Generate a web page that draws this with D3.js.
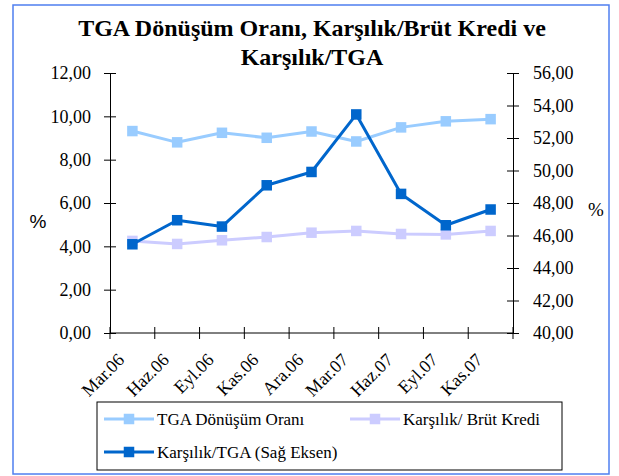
<!DOCTYPE html>
<html>
<head>
<meta charset="utf-8">
<script src="https://cdn.jsdelivr.net/npm/d3@7"></script>
<style>
  html, body { margin: 0; padding: 0; background: #fff; }
  svg { display: block; }
</style>
</head>
<body>
<svg id="chart" width="619" height="476"></svg>
<script>
// Quarterly periods
const periods = ["Mar.06", "Haz.06", "Eyl.06", "Kas.06", "Ara.06", "Mar.07", "Haz.07", "Eyl.07", "Kas.07"];

// Left-axis series (%)
const tgaDonusum = [9.32, 8.80, 9.24, 9.01, 9.30, 8.84, 9.49, 9.77, 9.87];
const karsilikBrut = [4.25, 4.11, 4.28, 4.43, 4.63, 4.71, 4.57, 4.55, 4.71];

// Right-axis series (%)
const karsilikTga = [45.46, 46.94, 46.55, 49.09, 49.91, 53.45, 48.56, 46.63, 47.60];

const leftTicks = [0, 2, 4, 6, 8, 10, 12];
const rightTicks = [40, 42, 44, 46, 48, 50, 52, 54, 56];

const seriesNames = ["TGA Dönüşüm Oranı", "Karşılık/ Brüt Kredi", "Karşılık/TGA (Sağ Eksen)"];
const colors = ["#99ccff", "#ccccff", "#0066cc"];

const svg = d3.select("#chart");
const serif = "Liberation Serif, Times New Roman, serif";
const fmt = v => d3.format(".2f")(v).replace(".", ",");

const plot = { left: 110, right: 513, top: 73, bottom: 333 };

// Outer chart frame
svg.append("rect")
  .attr("x", 13).attr("y", 5).attr("width", 596).attr("height", 469)
  .attr("fill", "#fff").attr("stroke", "#4f7ff0").attr("stroke-width", 1.5);

// Title
const title = svg.append("text")
  .attr("text-anchor", "middle")
  .attr("font-family", serif).attr("font-weight", "bold").attr("font-size", 24)
  .attr("fill", "#000");
title.append("tspan").attr("x", 312).attr("y", 36).text("TGA Dönüşüm Oranı, Karşılık/Brüt Kredi ve");
title.append("tspan").attr("x", 312).attr("y", 65).text("Karşılık/TGA");

const x = d3.scaleBand().domain(periods).range([plot.left, plot.right]);
const yL = d3.scaleLinear().domain([0, 12]).range([plot.bottom, plot.top]);
const yR = d3.scaleLinear().domain([40, 56]).range([plot.bottom, plot.top]);

// Left axis (ticks cross the axis line)
const gL = svg.append("g").attr("transform", `translate(${plot.left},0)`)
  .call(d3.axisLeft(yL).tickValues(leftTicks).tickFormat(fmt).tickSizeInner(6).tickSizeOuter(0).tickPadding(13));
gL.selectAll(".tick line").attr("x1", 6);

// Right axis
const gR = svg.append("g").attr("transform", `translate(${plot.right},0)`)
  .call(d3.axisRight(yR).tickValues(rightTicks).tickFormat(fmt).tickSizeInner(6).tickSizeOuter(0).tickPadding(14));
gR.selectAll(".tick line").attr("x1", -6);

// Bottom axis: ticks on band boundaries, labels at band centres
const gX = svg.append("g").attr("transform", `translate(0,${plot.bottom})`);
gX.append("line").attr("x1", plot.left).attr("x2", plot.right).attr("stroke", "#000");
const bounds = periods.map(p => x(p)).concat([plot.right]);
gX.selectAll("line.tk").data(bounds).join("line").attr("class", "tk")
  .attr("x1", d => d).attr("x2", d => d).attr("y1", -6).attr("y2", 6).attr("stroke", "#000");
gX.selectAll("text").data(periods).join("text")
  .attr("transform", d => `translate(${x(d) + x.bandwidth() / 2 - 7},${28}) rotate(-45)`)
  .attr("text-anchor", "end")
  .attr("font-family", serif).attr("font-size", 18).attr("fill", "#000")
  .text(d => d);

[gL, gR].forEach(g => {
  g.select(".domain").attr("stroke", "#000");
  g.selectAll(".tick line").attr("stroke", "#000");
  g.selectAll("text").attr("font-family", serif).attr("font-size", 18).attr("fill", "#000");
});

// Axis unit labels
svg.append("text").attr("x", 38).attr("y", 228).attr("text-anchor", "middle")
  .attr("font-family", "Liberation Sans, Arial, sans-serif").attr("font-size", 19).text("%");
svg.append("text").attr("x", 596).attr("y", 216).attr("text-anchor", "middle")
  .attr("font-family", serif).attr("font-size", 19).text("%");

const cx = d => x(d) + x.bandwidth() / 2;
const series = [
  { data: tgaDonusum, y: yL, color: colors[0] },
  { data: karsilikBrut, y: yL, color: colors[1] },
  { data: karsilikTga, y: yR, color: colors[2] }
];
const ms = 10.5;

series.forEach(s => {
  const pts = periods.map((p, i) => [cx(p), s.y(s.data[i])]);
  svg.append("path").attr("d", d3.line()(pts))
    .attr("fill", "none").attr("stroke", s.color).attr("stroke-width", 3).attr("stroke-linejoin", "round");
  svg.append("g").selectAll("rect").data(pts).join("rect")
    .attr("x", d => d[0] - ms / 2).attr("y", d => d[1] - ms / 2)
    .attr("width", ms).attr("height", ms).attr("fill", s.color);
});

// Legend
const lg = svg.append("g");
lg.append("rect").attr("x", 97).attr("y", 402).attr("width", 465).attr("height", 68)
  .attr("fill", "#fff").attr("stroke", "#000").attr("stroke-width", 1);
const items = [
  { x: 104, y: 419, i: 0 },
  { x: 350, y: 419, i: 1 },
  { x: 104, y: 452, i: 2 }
];
items.forEach(it => {
  lg.append("line").attr("x1", it.x).attr("x2", it.x + 50).attr("y1", it.y).attr("y2", it.y)
    .attr("stroke", colors[it.i]).attr("stroke-width", 3);
  lg.append("rect").attr("x", it.x + 25 - ms / 2).attr("y", it.y - ms / 2)
    .attr("width", ms).attr("height", ms).attr("fill", colors[it.i]);
  lg.append("text").attr("x", it.x + 53).attr("y", it.y + 6)
    .attr("font-family", serif).attr("font-size", 17).attr("fill", "#000")
    .text(seriesNames[it.i]);
});
</script>
</body>
</html>
